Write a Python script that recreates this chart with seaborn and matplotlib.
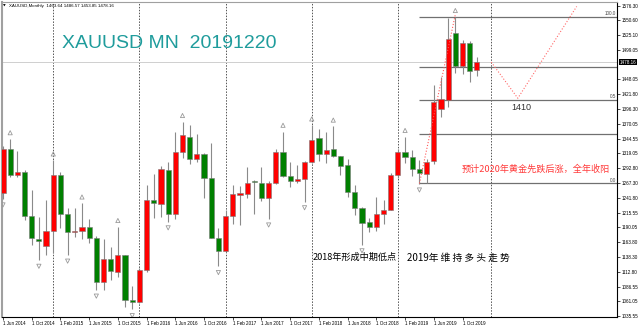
import numpy as np
import pandas as pd
import matplotlib
matplotlib.use("Agg")
import matplotlib.pyplot as plt
import matplotlib.transforms as mtransforms
import seaborn as sns

# ---------------- data ----------------
months = ["Jun 2014", "Jul 2014", "Aug 2014", "Sep 2014", "Oct 2014", "Nov 2014", "Dec 2014",
          "Jan 2015", "Feb 2015", "Mar 2015", "Apr 2015", "May 2015", "Jun 2015", "Jul 2015",
          "Aug 2015", "Sep 2015", "Oct 2015", "Nov 2015", "Dec 2015",
          "Jan 2016", "Feb 2016", "Mar 2016", "Apr 2016", "May 2016", "Jun 2016", "Jul 2016",
          "Aug 2016", "Sep 2016", "Oct 2016", "Nov 2016", "Dec 2016",
          "Jan 2017", "Feb 2017", "Mar 2017", "Apr 2017", "May 2017", "Jun 2017", "Jul 2017",
          "Aug 2017", "Sep 2017", "Oct 2017", "Nov 2017", "Dec 2017",
          "Jan 2018", "Feb 2018", "Mar 2018", "Apr 2018", "May 2018", "Jun 2018", "Jul 2018",
          "Aug 2018", "Sep 2018", "Oct 2018", "Nov 2018", "Dec 2018",
          "Jan 2019", "Feb 2019", "Mar 2019", "Apr 2019", "May 2019", "Jun 2019", "Jul 2019",
          "Aug 2019", "Sep 2019", "Oct 2019", "Nov 2019", "Dec 2019"]

opens = [1250, 1326, 1282, 1287, 1209, 1170, 1158,
         1184, 1282, 1213, 1182, 1184, 1190, 1172, 1095, 1134, 1113, 1141, 1063,
         1059, 1116, 1238, 1230, 1290, 1214, 1321, 1347, 1309, 1317, 1276, 1172,
         1149, 1209, 1247, 1248, 1270, 1268, 1241, 1268, 1321, 1280, 1270, 1274,
         1303, 1345, 1318, 1326, 1314, 1299, 1252, 1223, 1200, 1191, 1214, 1221,
         1281, 1321, 1312, 1291, 1283, 1305, 1397, 1412, 1529, 1472, 1512, 1463.64]
highs = [1332, 1344, 1323, 1290, 1255, 1208, 1238,
         1307, 1286, 1223, 1224, 1232, 1205, 1175, 1170, 1156, 1191, 1142, 1088,
         1119, 1263, 1283, 1297, 1303, 1357, 1374, 1368, 1352, 1319, 1337, 1188,
         1221, 1264, 1262, 1295, 1272, 1296, 1271, 1326, 1357, 1304, 1299, 1306,
         1368, 1361, 1357, 1366, 1315, 1309, 1264, 1225, 1206, 1243, 1237, 1284,
         1326, 1348, 1324, 1307, 1309, 1438, 1452, 1555, 1557, 1516, 1515, 1486.57]
lows = [1240, 1278, 1278, 1203, 1160, 1133, 1142,
        1145, 1188, 1142, 1174, 1169, 1162, 1081, 1080, 1098, 1104, 1052, 1047,
        1058, 1113, 1207, 1208, 1200, 1204, 1310, 1300, 1304, 1241, 1172, 1122,
        1147, 1196, 1194, 1241, 1214, 1236, 1205, 1266, 1277, 1260, 1267, 1235,
        1302, 1306, 1302, 1312, 1282, 1243, 1211, 1160, 1182, 1183, 1196, 1220,
        1276, 1302, 1280, 1266, 1267, 1301, 1383, 1400, 1459, 1457, 1444, 1453.85]
closes = [1327, 1281, 1287, 1209, 1171, 1166, 1184,
          1282, 1213, 1182, 1184, 1190, 1172, 1094, 1134, 1114, 1141, 1063, 1060,
          1116, 1238, 1232, 1292, 1214, 1321, 1351, 1309, 1317, 1276, 1172, 1149,
          1209, 1248, 1249, 1268, 1269, 1241, 1268, 1321, 1280, 1270, 1274, 1303,
          1343, 1318, 1324, 1314, 1297, 1252, 1223, 1198, 1191, 1213, 1221, 1281,
          1322, 1312, 1292, 1284, 1304, 1409, 1413, 1519, 1472, 1512, 1463, 1478.16]

fractal_up_months = ["Jul 2014", "Jan 2015", "May 2015", "Oct 2015", "Jul 2016", "Sep 2017",
                     "Jan 2018", "Apr 2018", "Feb 2019", "Sep 2019"]
fractal_down_months = ["Jun 2014", "Nov 2014", "Mar 2015", "Jul 2015", "Dec 2015", "May 2016",
                       "Dec 2016", "Jul 2017", "Dec 2017", "Aug 2018", "Apr 2019"]

price_ticks = [1576.30, 1550.60, 1525.10, 1499.05, 1448.05, 1421.80, 1396.30, 1370.05,
               1344.55, 1319.05, 1292.80, 1267.30, 1241.80, 1215.55, 1190.05, 1163.80,
               1138.30, 1112.80, 1086.55, 1061.05, 1035.55]
date_tick_months = ["Jun 2014", "Oct 2014", "Feb 2015", "Jun 2015", "Oct 2015", "Feb 2016",
                    "Jun 2016", "Oct 2016", "Feb 2017", "Jun 2017", "Oct 2017", "Feb 2018",
                    "Jun 2018", "Oct 2018", "Feb 2019", "Jun 2019", "Oct 2019"]
year_separators = [7, 19, 31, 43, 55, 68]

fib_levels = [1557.0, 1470.0, 1412.0, 1353.0, 1266.5]
fib_labels = {1557.0: "100.0", 1412.0: "0.5", 1266.5: "0.0"}
trend_x = [58, 63]
trend_y = [1266.5, 1561]
forecast_x = [68, 71.7, 79.9]
forecast_y = [1478, 1415, 1575]
current_price = 1478.16

# ---------------- style ----------------
sns.set_style("white")
plt.rcParams["font.family"] = ["Liberation Sans", "Noto Sans CJK SC", "DejaVu Sans"]

W, H = 640, 330
fig = plt.figure(figsize=(6.4, 3.3), dpi=100)
ax = fig.add_axes([2 / W, 13 / H, 615 / W, 315 / H])

idx = np.arange(len(months))
o = np.array(opens, float); c = np.array(closes, float)
hi = np.array(highs, float); lo = np.array(lows, float)
up = c >= o

# year separators
for xs in year_separators:
    ax.axvline(xs, color="#555555", lw=0.7, ls=(0, (1.5, 1.5)), zorder=1)

# current price line
ax.axhline(current_price, color="#cfcfcf", lw=0.7, zorder=1)

# fib lines
xmax = (617 - 3) / 7.18
ax.hlines(fib_levels, 58, xmax, color="#707070", lw=0.9, zorder=1)
for lv, lab in fib_labels.items():
    ax.text(xmax - 0.15, lv + 1.5, lab, ha="right", va="bottom", fontsize=3.3, color="#444444")

# candles
ax.vlines(idx, lo, hi, color="#8a8a8a", lw=0.8, zorder=2)
body_bottom = np.minimum(o, c)
body_h = np.maximum(np.abs(c - o), 0.6)
ax.bar(idx, body_h, bottom=body_bottom, width=0.72,
       color=np.where(up, "#ff0000", "#008000"), edgecolor="#7a7a7a", linewidth=0.4, zorder=3)

# fractals
m_index = {m: i for i, m in enumerate(months)}
up_df = pd.DataFrame({"x": [m_index[m] for m in fractal_up_months],
                      "y": [highs[m_index[m]] for m in fractal_up_months]})
dn_df = pd.DataFrame({"x": [m_index[m] for m in fractal_down_months],
                      "y": [lows[m_index[m]] for m in fractal_down_months]})
tr_up = mtransforms.offset_copy(ax.transData, fig=fig, y=4.5, units="points")
tr_dn = mtransforms.offset_copy(ax.transData, fig=fig, y=-4.5, units="points")
sns.scatterplot(data=up_df, x="x", y="y", ax=ax, marker="^", s=9, facecolor="none",
                edgecolor="#9a9a9a", linewidth=0.6, transform=tr_up, zorder=4)
sns.scatterplot(data=dn_df, x="x", y="y", ax=ax, marker="v", s=9, facecolor="none",
                edgecolor="#9a9a9a", linewidth=0.6, transform=tr_dn, zorder=4)

# red dotted lines
ax.plot(trend_x, trend_y, ls=":", color="#ff5a5a", lw=0.8, zorder=4)
ax.plot(forecast_x, forecast_y, ls=":", color="#ff6a6a", lw=0.8, zorder=4)

# axes limits & ticks
ax.set_xlim((2 - 3) / 7.18, xmax)
ax.set_ylim(1576.3 - (317 - 5.7) * 1.743, 1576.3 + (5.7 - 2) * 1.743)
ax.yaxis.tick_right()
ax.set_yticks(price_ticks)
ax.set_yticklabels([f"{v:.2f}" for v in price_ticks])
ax.set_xticks([m_index[m] for m in date_tick_months])
ax.set_xticklabels([f"1 {m}" for m in date_tick_months])
plt.setp(ax.get_xticklabels(), ha="left")
ax.tick_params(axis="y", right=True, length=2, width=0.5, pad=1.5, labelsize=3.3, colors="black")
ax.tick_params(axis="x", bottom=True, length=2, width=0.5, pad=1.0, labelsize=3.3, colors="black")
ax.set_xlabel(""); ax.set_ylabel("")

for side, col, lw in [("bottom", "black", 0.8), ("right", "black", 0.8),
                      ("left", "#a0a0a0", 1.5), ("top", "#a0a0a0", 0.8)]:
    ax.spines[side].set_visible(True)
    ax.spines[side].set_color(col)
    ax.spines[side].set_linewidth(lw)

# current price box on scale
blend = mtransforms.blended_transform_factory(ax.transAxes, ax.transData)
ax.text(1.0 + 3 / 615, current_price, f"{current_price:.2f}", transform=blend, ha="left",
        va="center", fontsize=3.3, color="white",
        bbox=dict(facecolor="black", edgecolor="none", pad=0.5), clip_on=False)

# texts
fig.text(3 / W, 1 - 7 / H, "\u25bc", fontsize=2.5, color="black", va="baseline",
         family=["DejaVu Sans"])
fig.text(9 / W, 1 - 7 / H, "XAUUSD,Monthly  1463.64 1486.57 1453.85 1478.16",
         fontsize=3.2, color="black", va="baseline")
fig.text(62 / W, 1 - 48.5 / H, "XAUUSD MN  20191220", fontsize=14, color="#1f9c9c",
         va="baseline")
cjk = ["Noto Sans CJK SC", "DejaVu Sans"]
fig.text(313 / W, 1 - 257.5 / H, "2018年形成中期低点", fontsize=6.6, color="black",
         va="center", family=cjk)
fig.text(407 / W, 1 - 257.5 / H, "2019年 维 持 多 头 走 势", fontsize=7.0, color="black",
         va="center", family=cjk)
fig.text(462 / W, 1 - 169 / H, "预计2020年黄金先跌后涨，全年收阳", fontsize=6.6,
         color="#ff3b3b", va="center", family=cjk)
fig.text(511 / W, 1 - 108 / H, "1410", fontsize=6.5, color="#333333", va="center")

fig.savefig("out.png", dpi=100)
